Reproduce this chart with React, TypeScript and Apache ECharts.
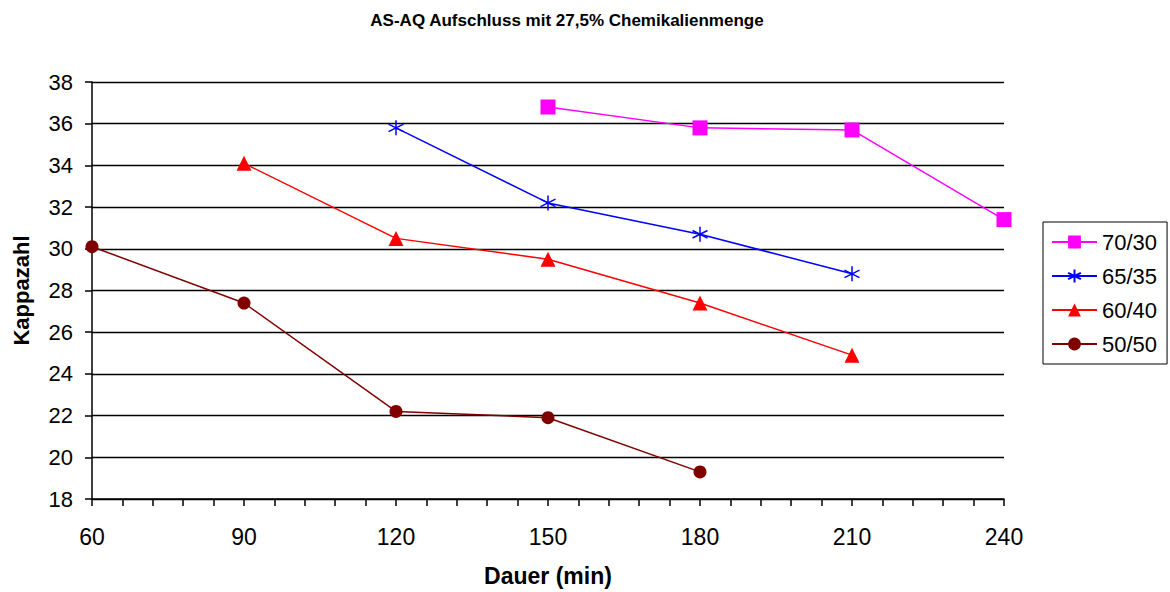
import React, { useEffect, useRef } from "react";
import * as echarts from "echarts";

// Kochdauer in Minuten
const dauer = [60, 90, 120, 150, 180, 210, 240];

// Kappazahl je Mischungsverhältnis (null = kein Messpunkt)
const s7030 = [null, null, null, 36.8, 35.8, 35.7, 31.4];
const s6535 = [null, null, 35.8, 32.2, 30.7, 28.8, null];
const s6040 = [null, 34.1, 30.5, 29.5, 27.4, 24.9, null];
const s5050 = [30.1, 27.4, 22.2, 21.9, 19.3, null, null];

const seriesNames = ["70/30", "65/35", "60/40", "50/50"];
const seriesColors = ["#FF00FF", "#0000FF", "#FF0000", "#800000"];

const asterisk = "path://M0,-7L0,7M-6,-3.5L6,3.5M-6,3.5L6,-3.5";

const toPairs = (vals: (number | null)[]) =>
  vals.map((v, i) => [dauer[i], v]).filter((p) => p[1] !== null);

export default function App() {
  const ref = useRef<HTMLDivElement>(null);

  useEffect(() => {
    document.body.style.margin = "0";
    const chart = echarts.init(ref.current!, undefined, { renderer: "svg" });
    const font = "Arial, 'Liberation Sans', sans-serif";
    const data = [s7030, s6535, s6040, s5050];
    const symbols = ["rect", asterisk, "triangle", "circle"];
    const sizes = [15, 15, 15, 13];

    chart.setOption({
      animation: false,
      backgroundColor: "#ffffff",
      title: {
        text: "AS-AQ Aufschluss mit 27,5% Chemikalienmenge",
        left: 562,
        textAlign: "center",
        top: 7,
        textStyle: { fontFamily: font, fontSize: 17, fontWeight: "bold", color: "#000" },
      },
      grid: { left: 92, right: 166, top: 82, bottom: 91 },
      legend: {
        orient: "vertical",
        left: 1043,
        top: 222,
        width: 122,
        padding: [9, 10, 9, 8],
        borderColor: "#000",
        borderWidth: 1,
        itemWidth: 45,
        itemHeight: 16,
        itemGap: 12,
        data: seriesNames,
        textStyle: { fontFamily: font, fontSize: 22, lineHeight: 22, color: "#000" },
      },
      xAxis: {
        type: "value",
        min: 60,
        max: 240,
        interval: 30,
        name: "Dauer (min)",
        nameLocation: "middle",
        nameGap: 65,
        nameTextStyle: { fontFamily: font, fontSize: 23, fontWeight: "bold", color: "#000" },
        axisLine: { show: true, onZero: false, lineStyle: { color: "#000", width: 1.5 } },
        axisTick: { show: true, inside: false, length: 7, lineStyle: { color: "#000", width: 1.5 } },
        minorTick: { show: true, splitNumber: 5, length: 7, lineStyle: { color: "#000", width: 1.5 } },
        splitLine: { show: false },
        axisLabel: { fontFamily: font, fontSize: 23, color: "#000", margin: 26 },
      },
      yAxis: {
        type: "value",
        min: 18,
        max: 38,
        interval: 2,
        name: "Kappazahl",
        nameLocation: "middle",
        nameGap: 60,
        nameTextStyle: { fontFamily: font, fontSize: 22, fontWeight: "bold", color: "#000" },
        axisLine: { show: true, lineStyle: { color: "#000", width: 1.5 } },
        axisTick: { show: true, inside: false, length: 7, lineStyle: { color: "#000", width: 1.5 } },
        splitLine: { show: true, lineStyle: { color: "#000", width: 1.3 } },
        axisLabel: { fontFamily: font, fontSize: 22, color: "#000", margin: 19 },
      },
      series: seriesNames.map((name, i) => ({
        name,
        type: "line",
        data: toPairs(data[i]),
        symbol: symbols[i],
        symbolSize: sizes[i],
        showAllSymbol: true,
        color: seriesColors[i],
        lineStyle: { color: seriesColors[i], width: 1.5 },
        itemStyle:
          i === 1
            ? { color: seriesColors[i], borderColor: seriesColors[i], borderWidth: 1.5 }
            : { color: seriesColors[i] },
      })),
    });
    return () => chart.dispose();
  }, []);

  return <div ref={ref} style={{ width: 1170, height: 592 }} />;
}
